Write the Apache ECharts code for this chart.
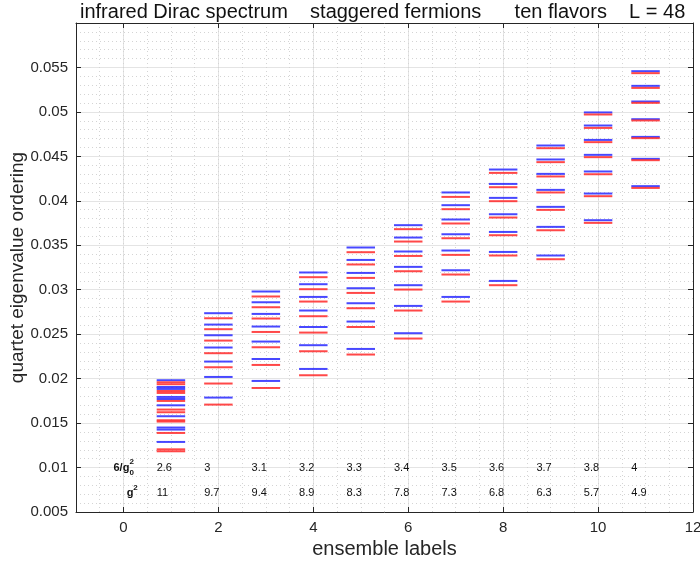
<!DOCTYPE html>
<html>
<head>
<meta charset="utf-8">
<script src="https://cdn.jsdelivr.net/npm/echarts@6/dist/echarts.min.js"></script>
<style>
  html, body { margin: 0; padding: 0; background: #fff; }
  #chart { width: 700px; height: 562px; }
</style>
</head>
<body>
<div id="chart"></div>
<script>
// Ensemble labels on the x axis
const ensembles = [1, 2, 3, 4, 5, 6, 7, 8, 9, 10, 11];

// Quartet eigenvalues, upper member of each split pair (drawn blue), per ensemble
const blueLevels = [
  [0.01982, 0.01906, 0.01884, 0.01794, 0.01771, 0.01700, 0.01577, 0.01450, 0.01427, 0.01288],
  [0.02736, 0.02608, 0.02488, 0.02350, 0.02192, 0.02019, 0.01787],
  [0.02980, 0.02859, 0.02728, 0.02586, 0.02417, 0.02221, 0.01974],
  [0.03194, 0.03062, 0.02919, 0.02766, 0.02581, 0.02376, 0.02109],
  [0.03475, 0.03335, 0.03189, 0.03017, 0.02848, 0.02642, 0.02334],
  [0.03726, 0.03587, 0.03430, 0.03257, 0.03051, 0.02818, 0.02511],
  [0.04094, 0.03951, 0.03790, 0.03624, 0.03441, 0.03219, 0.02919],
  [0.04352, 0.04190, 0.04033, 0.03849, 0.03650, 0.03425, 0.03099],
  [0.04622, 0.04465, 0.04303, 0.04123, 0.03932, 0.03707, 0.03385],
  [0.04994, 0.04847, 0.04685, 0.04517, 0.04330, 0.04082, 0.03782],
  [0.05458, 0.05293, 0.05117, 0.04918, 0.04719, 0.04472, 0.04165]
];

// Lower member of each split pair (drawn red), per ensemble
const redLevels = [
  [0.01959, 0.01937, 0.01861, 0.01839, 0.01749, 0.01652, 0.01622, 0.01532, 0.01517, 0.01389, 0.01205, 0.01183],
  [0.02679, 0.02556, 0.02428, 0.02286, 0.02128, 0.01945, 0.01708],
  [0.02924, 0.02803, 0.02676, 0.02525, 0.02353, 0.02154, 0.01895],
  [0.03141, 0.03006, 0.02867, 0.02702, 0.02518, 0.02308, 0.02038],
  [0.03422, 0.03284, 0.03133, 0.02964, 0.02792, 0.02581, 0.02271],
  [0.03681, 0.03542, 0.03380, 0.03208, 0.03002, 0.02766, 0.02451],
  [0.04044, 0.03906, 0.03745, 0.03579, 0.03392, 0.03171, 0.02867],
  [0.04314, 0.04153, 0.03996, 0.03812, 0.03613, 0.03385, 0.03051],
  [0.04592, 0.04435, 0.04274, 0.04094, 0.03898, 0.03669, 0.03343],
  [0.04971, 0.04820, 0.04660, 0.04491, 0.04299, 0.04052, 0.03752],
  [0.05436, 0.05270, 0.05102, 0.04904, 0.04705, 0.04457, 0.04145]
];

// Bare couplings 6/g0^2 and renormalized g^2 for each ensemble
const betaLabels = ['2.6', '3', '3.1', '3.2', '3.3', '3.4', '3.5', '3.6', '3.7', '3.8', '4'];
const gSquaredLabels = ['11', '9.7', '9.4', '8.9', '8.3', '7.8', '7.3', '6.8', '6.3', '5.7', '4.9'];

// Axis ticks
const xTickValues = [0, 2, 4, 6, 8, 10, 12];
const yTickLabels = ['0.005', '0.01', '0.015', '0.02', '0.025', '0.03', '0.035', '0.04', '0.045', '0.05', '0.055'];

const FONT = 'Liberation Sans, Helvetica, Arial, sans-serif';
const INK = '#262626';
const BAR_HALF = 0.3;      // half length of each level marker, in ensemble units
const BETA_ROW = 0.0100;   // rows of coupling annotations
const G2_ROW = 0.0071;

function levelPoints(levels) {
  const pts = [];
  levels.forEach((vals, i) => vals.forEach(v => pts.push([ensembles[i], v])));
  return pts;
}

function levelSeries(levels, color) {
  return {
    type: 'custom',
    xAxisIndex: 0, yAxisIndex: 0,
    data: levelPoints(levels),
    encode: { x: 0, y: 1 },
    renderItem: function (params, api) {
      const x = api.value(0), y = api.value(1);
      const a = api.coord([x - BAR_HALF, y]);
      const b = api.coord([x + BAR_HALF, y]);
      return {
        type: 'line',
        shape: { x1: a[0], y1: a[1], x2: b[0], y2: b[1] },
        style: { stroke: color, lineWidth: 2 }
      };
    },
    z: 5
  };
}

function textRowSeries(labels, yVal) {
  return {
    type: 'custom',
    data: labels.map((t, i) => [ensembles[i] - BAR_HALF, yVal, t]),
    encode: { x: 0, y: 1 },
    renderItem: function (params, api) {
      const p = api.coord([api.value(0), api.value(1)]);
      return {
        type: 'text', x: p[0], y: p[1],
        style: { text: labels[params.dataIndex], font: '11px ' + FONT, fill: '#111',
                 align: 'left', verticalAlign: 'middle' }
      };
    },
    z: 6
  };
}

// Row headings: 6/g_0^2 and g^2 with stacked super/subscripts
const rowHeads = [
  { x: -0.21, y: BETA_ROW, base: '6/g', sup: '2', sub: '0', baseW: 16 },
  { x: 0.07, y: G2_ROW, base: 'g', sup: '2', sub: '', baseW: 6.5 }
];

const headSeries = {
  type: 'custom',
  data: rowHeads.map(h => [h.x, h.y]),
  encode: { x: 0, y: 1 },
  renderItem: function (params, api) {
    const h = rowHeads[params.dataIndex];
    const p = api.coord([api.value(0), api.value(1)]);
    const children = [
      { type: 'text', x: p[0], y: p[1],
        style: { text: h.base, font: 'bold 11px ' + FONT, fill: '#111', align: 'left', verticalAlign: 'middle' } },
      { type: 'text', x: p[0] + h.baseW, y: p[1] - 6,
        style: { text: h.sup, font: 'bold 8px ' + FONT, fill: '#111', align: 'left', verticalAlign: 'middle' } }
    ];
    if (h.sub) {
      children.push({ type: 'text', x: p[0] + h.baseW, y: p[1] + 5,
        style: { text: h.sub, font: 'bold 8px ' + FONT, fill: '#111', align: 'left', verticalAlign: 'middle' } });
    }
    return { type: 'group', children: children };
  },
  z: 6
};

const chart = echarts.init(document.getElementById('chart'), null, { renderer: 'canvas' });

const dotted = { type: [1, 3], color: '#d4d4d4', width: 1 };

chart.setOption({
  animation: false,
  backgroundColor: '#ffffff',
  title: {
    text: 'infrared Dirac spectrum    staggered fermions      ten flavors    L = 48',
    left: 80, top: 2, padding: 0,
    textStyle: { fontFamily: FONT, fontSize: 20, fontWeight: 'normal', color: '#111' }
  },
  grid: { left: 76, right: 7, top: 23, bottom: 50, containLabel: false, outerBoundsMode: 'none' },
  xAxis: [
    {
      type: 'value', min: -1, max: 12, interval: 0.5, position: 'bottom',
      name: 'ensemble labels', nameLocation: 'middle', nameGap: 27,
      nameTextStyle: { fontFamily: FONT, fontSize: 20, color: INK },
      axisLine: { show: true, onZero: false, lineStyle: { color: INK, width: 1 } },
      axisTick: { show: true, inside: true, length: 5, customValues: xTickValues, lineStyle: { color: INK } },
      axisLabel: { customValues: xTickValues, fontFamily: FONT, fontSize: 15, color: INK, margin: 8 },
      splitLine: { show: true, lineStyle: { color: '#e4e4e4', width: 1 } }
    },
    {
      type: 'value', min: -1, max: 12, interval: 0.5, position: 'top',
      axisLine: { show: true, onZero: false, lineStyle: { color: INK, width: 1 } },
      axisTick: { show: true, inside: true, length: 5, customValues: xTickValues, lineStyle: { color: INK } },
      axisLabel: { show: false },
      splitLine: { show: false }
    },
    {
      type: 'value', min: -1, max: 12, interval: 0.5, position: 'bottom',
      axisLine: { show: false }, axisTick: { show: false }, axisLabel: { show: false },
      splitLine: { show: true, lineStyle: dotted }
    }
  ],
  yAxis: [
    {
      type: 'value', min: 0.005, max: 0.06, interval: 0.005, position: 'left',
      name: 'quartet eigenvalue ordering', nameLocation: 'middle', nameGap: 49,
      nameMoveOverlap: false,
      nameTextStyle: { fontFamily: FONT, fontSize: 19, color: INK },
      axisLine: { show: true, onZero: false, lineStyle: { color: INK, width: 1 } },
      axisTick: { show: true, inside: true, length: 5, lineStyle: { color: INK } },
      axisLabel: {
        fontFamily: FONT, fontSize: 15, color: INK, margin: 8,
        formatter: function (v) {
          const i = Math.round((v - 0.005) / 0.005);
          return yTickLabels[i] !== undefined ? yTickLabels[i] : '';
        }
      },
      splitLine: { show: true, lineStyle: { color: '#e4e4e4', width: 1 } },
      minorTick: { show: false, splitNumber: 5 },
      minorSplitLine: { show: true, lineStyle: dotted }
    },
    {
      type: 'value', min: 0.005, max: 0.06, interval: 0.005, position: 'right',
      axisLine: { show: true, onZero: false, lineStyle: { color: INK, width: 1 } },
      axisTick: { show: true, inside: true, length: 5, lineStyle: { color: INK } },
      axisLabel: { show: false },
      splitLine: { show: false }
    }
  ],
  series: [
    levelSeries(blueLevels, 'rgba(40,40,255,0.85)'),
    levelSeries(redLevels, 'rgba(255,40,40,0.85)'),
    textRowSeries(betaLabels, BETA_ROW),
    textRowSeries(gSquaredLabels, G2_ROW),
    headSeries
  ]
});
</script>
</body>
</html>
